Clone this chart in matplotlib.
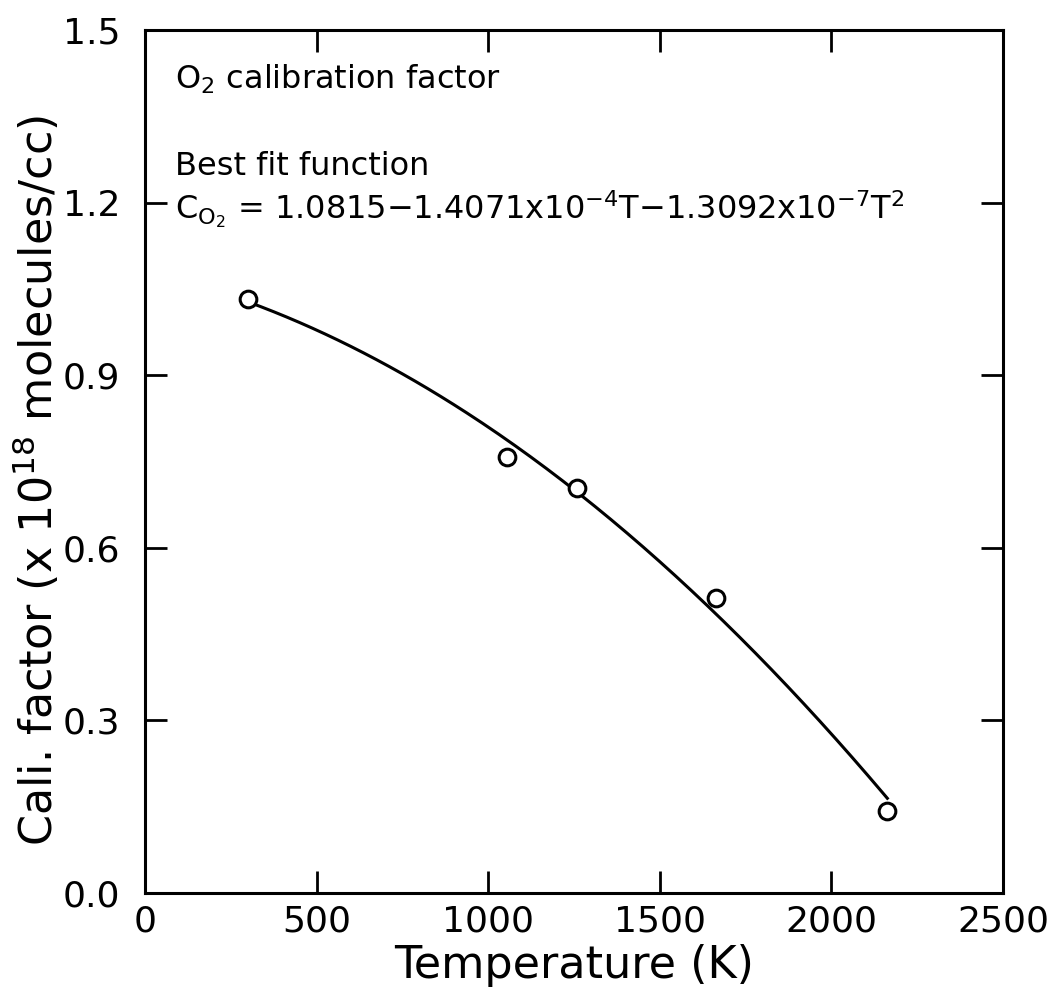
import numpy as np
import matplotlib
matplotlib.use("Agg")
import matplotlib.pyplot as plt

# Data
temperature_K = [300, 1055, 1260, 1665, 2163]
cali_factor = [1.033, 0.758, 0.704, 0.512, 0.143]
fit_coeffs = [1.0815, -1.4071e-4, -1.3092e-7]   # c0 + c1*T + c2*T^2 (stated on chart)
x_ticks = [0, 500, 1000, 1500, 2000, 2500]
y_ticks = [0.0, 0.3, 0.6, 0.9, 1.2, 1.5]

plt.rcParams['font.family'] = ['DejaVu Sans']
plt.rcParams['mathtext.default'] = 'regular'

fig = plt.figure(figsize=(10.54, 9.94), dpi=100)
ax = fig.add_axes([0.1376, 0.1016, 0.8140, 0.8682])

T_fit = np.linspace(temperature_K[0], temperature_K[-1], 200)
C_fit = np.polyval(fit_coeffs[::-1], T_fit)
ax.plot(T_fit, C_fit, color='black', lw=2.2)
ax.plot(temperature_K, cali_factor, linestyle='none', marker='o', markersize=12,
        markerfacecolor='white', markeredgecolor='black', markeredgewidth=2.2)

ax.set_xlim(0, 2500)
ax.set_ylim(0, 1.5)
ax.set_xticks(x_ticks)
ax.set_yticks(y_ticks)
ax.set_xticklabels([str(t) for t in x_ticks])
ax.set_yticklabels([f"{v:.1f}" for v in y_ticks])
ax.tick_params(direction='in', length=16, width=2, top=True, right=True,
               labelsize=26)
ax.tick_params(axis='y', pad=18)
ax.tick_params(axis='x', pad=8)
for s in ax.spines.values():
    s.set_linewidth(2.2)

ax.set_xlabel("Temperature (K)", fontsize=32, labelpad=4)
ax.set_ylabel("Cali. factor (x 10$^{18}$ molecules/cc)", fontsize=32)
ax.yaxis.set_label_coords(-0.097, 0.478)

ax.text(0.035, 0.943, "O$_2$ calibration factor", transform=ax.transAxes,
        fontsize=23, va='center', ha='left')
ax.text(0.035, 0.842, "Best fit function", transform=ax.transAxes,
        fontsize=23, va='center', ha='left')
ax.text(0.035, 0.792,
        "C$_{O_2}$ = 1.0815\u22121.4071x10$^{-4}$T\u22121.3092x10$^{-7}$T$^2$",
        transform=ax.transAxes, fontsize=23, va='center', ha='left')

fig.savefig("out.png", dpi=100)
